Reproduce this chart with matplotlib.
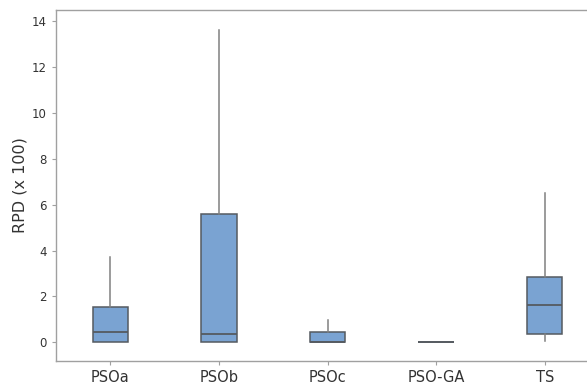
import matplotlib
matplotlib.use("Agg")
import matplotlib.pyplot as plt

# Summary statistics (RPD x 100) for each algorithm
labels = ["PSOa", "PSOb", "PSOc", "PSO-GA", "TS"]
whisker_low = [0.0, 0.0, 0.0, 0.03, 0.04]
q1 = [0.0, 0.0, 0.0, 0.03, 0.35]
median = [0.44, 0.35, 0.0, 0.03, 1.61]
q3 = [1.55, 5.59, 0.44, 0.03, 2.86]
whisker_high = [3.73, 13.61, 0.97, 0.03, 6.49]

stats = [
    dict(label=lab, whislo=wl, q1=a, med=m, q3=b, whishi=wh, fliers=[])
    for lab, wl, a, m, b, wh in zip(labels, whisker_low, q1, median, q3, whisker_high)
]

fig = plt.figure(figsize=(5.87, 3.85), dpi=100)
ax = fig.add_axes([56 / 587, 24 / 385, 543 / 587, 351 / 385])

edge = "#555a60"
ax.bxp(
    stats,
    positions=range(1, len(labels) + 1),
    widths=0.325,
    patch_artist=True,
    showcaps=False,
    showfliers=False,
    boxprops=dict(facecolor="#7aa3d2", edgecolor=edge, linewidth=1.1),
    medianprops=dict(color=edge, linewidth=1.3),
    whiskerprops=dict(color="#808080", linewidth=1.1),
)

ax.set_xlim(0.5, 5.5)
ax.set_ylim(-0.81, 14.48)
ax.set_yticks([0, 2, 4, 6, 8, 10, 12, 14])
ax.set_ylabel("RPD (x 100)", fontsize=11.5, color="#333333", labelpad=3)

for side in ["left", "top", "bottom"]:
    ax.spines[side].set_color("#a0a0a0")
    ax.spines[side].set_linewidth(1.0)
ax.spines["right"].set_visible(False)

ax.tick_params(axis="y", labelsize=8.5, labelcolor="#333333", color="#a0a0a0",
               length=3, width=0.8)
ax.tick_params(axis="x", labelsize=10.5, labelcolor="#333333", color="#a0a0a0",
               length=3, width=0.8)

fig.savefig("out.png", dpi=100)
